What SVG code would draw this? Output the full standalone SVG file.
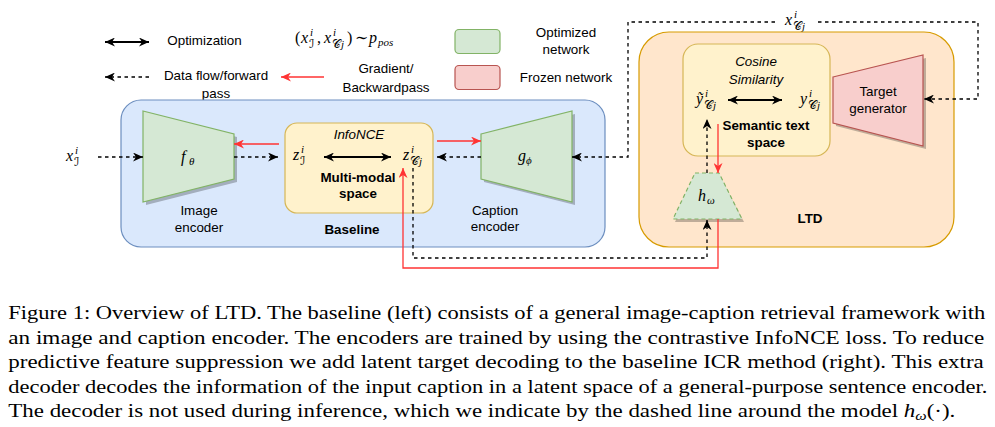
<svg xmlns="http://www.w3.org/2000/svg" width="995" height="427" viewBox="0 0 995 427">
<defs>
<marker id="ak" markerUnits="userSpaceOnUse" markerWidth="10" markerHeight="9" refX="10" refY="4.5" orient="auto-start-reverse"><path d="M0,0 L10,4.5 L0,9 L3,4.5 Z" fill="#000"/></marker>
<marker id="ar" markerUnits="userSpaceOnUse" markerWidth="10" markerHeight="9" refX="10" refY="4.5" orient="auto-start-reverse"><path d="M0,0 L10,4.5 L0,9 L3,4.5 Z" fill="#FF3333"/></marker>
</defs>
<style>
.t{font-family:"Liberation Sans",Arial,sans-serif;font-size:13.4px;fill:#000;text-anchor:middle}
.b{font-weight:bold}
.i{font-style:italic}
.m{font-family:"Liberation Serif","DejaVu Serif",serif;font-style:italic;font-size:16px;fill:#000}
.s{font-size:11px}
.sc{font-family:"DejaVu Serif","DejaVu Sans","Noto Sans",serif;font-style:normal;font-size:12px}
.up{font-style:normal}
.cap{font-family:"Liberation Serif","Times New Roman",serif;font-size:18.5px;fill:#000}
.dash{fill:none;stroke:#000;stroke-width:1.3;stroke-dasharray:3.5,3.5}
.red{fill:none;stroke:#FF3333;stroke-width:1.3}
.dbl{fill:none;stroke:#000;stroke-width:2}
.green{fill:#d5e8d4;stroke:#82b366;stroke-width:1.2}
.redn{fill:#f8cecc;stroke:#b85450;stroke-width:1.2}
.shadow{fill:#000;opacity:0.25}
</style>

<g id="legend">
<line class="dbl" x1="105" y1="42" x2="149" y2="42" marker-start="url(#ak)" marker-end="url(#ak)"/>
<text class="t" x="204.5" y="45">Optimization</text>
<text class="m"><tspan class="up" x="295" y="43">(</tspan><tspan x="301" y="43">x</tspan><tspan class="s" x="310" y="36">i</tspan><tspan class="sc" x="309" y="48">ℐ</tspan><tspan class="up" x="317" y="43">,</tspan><tspan x="324" y="43">x</tspan><tspan class="s" x="333" y="36">i</tspan><tspan class="sc" x="332" y="48">𝒞</tspan><tspan class="s" x="341" y="48">j</tspan><tspan class="up" x="347" y="43">)</tspan><tspan class="up" x="355" y="43">∼</tspan><tspan x="369" y="43">p</tspan><tspan class="s" x="378" y="46">pos</tspan></text>
<rect x="455" y="29.5" width="45" height="24" rx="4" class="green"/>
<text class="t" x="566" y="37">Optimized</text>
<text class="t" x="566" y="54">network</text>
<line class="dash" x1="149" y1="77" x2="105" y2="77" marker-end="url(#ak)"/>
<text class="t" x="216" y="80">Data flow/forward</text>
<text class="t" x="216" y="98">pass</text>
<line class="red" x1="324" y1="77" x2="281" y2="77" marker-end="url(#ar)"/>
<text class="t" x="386" y="72.5">Gradient/</text>
<text class="t" x="386" y="91.5">Backwardpass</text>
<rect x="455" y="65.5" width="45" height="24" rx="4" class="redn"/>
<text class="t" x="566" y="81.5">Frozen network</text>
</g>

<g id="baseline">
<rect x="121" y="100" width="484" height="147" rx="20" fill="#dae8fc" stroke="#6c8ebf" stroke-width="1.2"/>
<text class="t b" x="352" y="234">Baseline</text>
</g>

<g id="image-encoder">
<polygon class="shadow" points="146,114 237,137 237,182 146,205"/>
<polygon class="green" points="143,111 234,134 234,179 143,202"/>
<text class="m"><tspan x="181" y="162">f</tspan><tspan class="s" x="189" y="165">θ</tspan></text>
<text class="t" x="199" y="215">Image</text>
<text class="t" x="199" y="232">encoder</text>
</g>

<g id="multimodal-space">
<rect x="285" y="123" width="148" height="90" rx="12" fill="#fff2cc" stroke="#d6b656" stroke-width="1.2"/>
<text class="t i" x="359" y="139">InfoNCE</text>
<text class="m"><tspan x="293" y="160">z</tspan><tspan class="s" x="301" y="153">i</tspan><tspan class="sc" x="300" y="165">ℐ</tspan></text>
<text class="m"><tspan x="403" y="160">z</tspan><tspan class="s" x="411" y="153">i</tspan><tspan class="sc" x="410" y="165">𝒞</tspan><tspan class="s" x="419" y="165">j</tspan></text>
<text class="t b" x="358" y="181.5">Multi-modal</text>
<text class="t b" x="358" y="198">space</text>
</g>

<g id="caption-encoder">
<polygon class="shadow" points="484,137 575,114 575,205 484,182"/>
<polygon class="green" points="481,134 572,111 572,202 481,179"/>
<text class="m"><tspan x="518" y="161">g</tspan><tspan class="s" x="526" y="164">ϕ</tspan></text>
<text class="t" x="495" y="214.5">Caption</text>
<text class="t" x="495" y="231">encoder</text>
</g>

<g id="input-image">
<text class="m"><tspan x="66" y="161">x</tspan><tspan class="s" x="75" y="154">i</tspan><tspan class="sc" x="74" y="166">ℐ</tspan></text>
</g>

<g id="input-caption">
<text class="m"><tspan x="785" y="25">x</tspan><tspan class="s" x="794" y="18">i</tspan><tspan class="sc" x="793" y="30">𝒞</tspan><tspan class="s" x="802" y="30">j</tspan></text>
</g>

<g id="ltd">
<rect x="639" y="32" width="315" height="215" rx="30" fill="#ffe6cc" stroke="#d79b00" stroke-width="1.2"/>
<text class="t b" x="810" y="223">LTD</text>
</g>

<g id="semantic-space">
<rect x="683" y="44" width="147" height="112" rx="15" fill="#fff2cc" stroke="#d6b656" stroke-width="1.2"/>
<text class="t i" x="756" y="66">Cosine</text>
<text class="t i" x="756" y="83.5">Similarity</text>
<text class="m"><tspan x="696" y="104">ỹ</tspan><tspan class="s" x="705" y="97">i</tspan><tspan class="sc" x="704" y="109">𝒞</tspan><tspan class="s" x="713" y="109">j</tspan></text>
<text class="m"><tspan x="800" y="104">y</tspan><tspan class="s" x="809" y="97">i</tspan><tspan class="sc" x="808" y="109">𝒞</tspan><tspan class="s" x="817" y="109">j</tspan></text>
<text class="t b" x="766" y="130">Semantic text</text>
<text class="t b" x="766" y="147">space</text>
</g>

<g id="target-generator">
<polygon class="shadow" points="836,80 926,58 926,149 836,126"/>
<polygon class="redn" points="833,77 923,55 923,146 833,123"/>
<text class="t" x="878" y="96">Target</text>
<text class="t" x="878" y="113">generator</text>
</g>

<g id="decoder">
<polygon class="shadow" points="696,176 720,176 744,222 675,222"/>
<polygon points="695,173 719,173 742,219 673,219" fill="#d5e8d4" stroke="#82b366" stroke-width="1.2" stroke-dasharray="4,3"/>
<text class="m"><tspan x="698" y="201">h</tspan><tspan class="s" x="707" y="204">ω</tspan></text>
</g>

<g id="connectors">
<line class="dbl" x1="324" y1="157" x2="391" y2="157" marker-start="url(#ak)" marker-end="url(#ak)"/>
<line class="dbl" x1="728" y1="100" x2="782" y2="100" marker-start="url(#ak)" marker-end="url(#ak)"/>
<line class="dash" x1="98" y1="157" x2="143" y2="157" marker-end="url(#ak)"/>
<line class="dash" x1="234" y1="157" x2="278" y2="157" marker-end="url(#ak)"/>
<line class="red" x1="279" y1="144" x2="234" y2="144" marker-end="url(#ar)"/>
<line class="red" x1="437" y1="141" x2="481" y2="141" marker-end="url(#ar)"/>
<line class="dash" x1="481" y1="157" x2="437" y2="157" marker-end="url(#ak)"/>
<path class="dash" d="M775,22 H628 V157 H572" marker-end="url(#ak)"/>
<path class="dash" d="M818,22 H978 V99 H924" marker-end="url(#ak)"/>
<path class="dash" d="M413,168 V258 H707 V220" marker-end="url(#ak)"/>
<line class="dash" x1="707" y1="173" x2="707" y2="119" marker-end="url(#ak)"/>
<line class="red" x1="718" y1="124" x2="718" y2="173" marker-end="url(#ar)"/>
<path class="red" d="M718,219 V268 H403 V168" marker-end="url(#ar)"/>
</g>

<g id="caption">
<text class="cap" x="8.3" y="319" textLength="977" lengthAdjust="spacingAndGlyphs">Figure 1: Overview of LTD. The baseline (left) consists of a general image-caption retrieval framework with</text>
<text class="cap" x="8.3" y="343.5" textLength="976" lengthAdjust="spacingAndGlyphs">an image and caption encoder. The encoders are trained by using the contrastive InfoNCE loss. To reduce</text>
<text class="cap" x="8.3" y="368" textLength="975.5" lengthAdjust="spacingAndGlyphs">predictive feature suppression we add latent target decoding to the baseline ICR method (right). This extra</text>
<text class="cap" x="8.3" y="392.5" textLength="979" lengthAdjust="spacingAndGlyphs">decoder decodes the information of the input caption in a latent space of a general-purpose sentence encoder.</text>
<text class="cap" x="8.3" y="417" textLength="947" lengthAdjust="spacingAndGlyphs">The decoder is not used during inference, which we indicate by the dashed line around the model <tspan font-style="italic">h</tspan><tspan font-size="13" dy="3" font-style="italic">ω</tspan><tspan dy="-3">(·).</tspan></text>
</g>
</svg>
